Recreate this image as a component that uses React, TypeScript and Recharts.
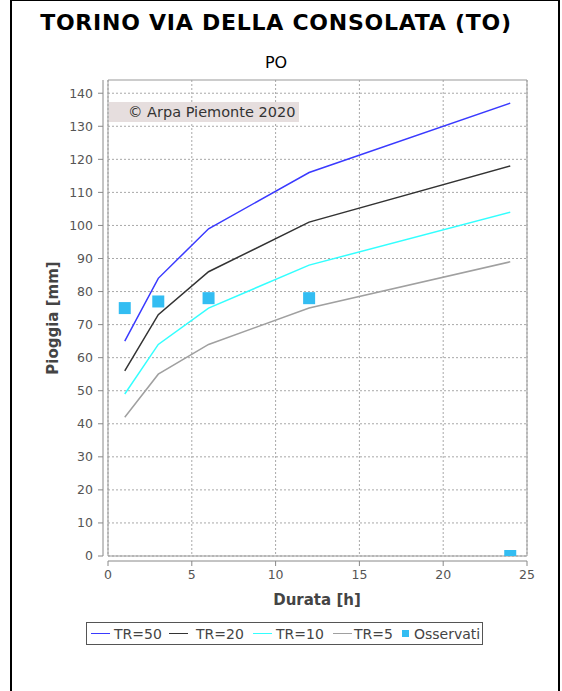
import { ComposedChart, Line, Scatter, XAxis, YAxis, CartesianGrid, ReferenceArea } from 'recharts';

const durations = [1, 3, 6, 12, 24];
const tr50 = [65, 84, 99, 116, 137];
const tr20 = [56, 73, 86, 101, 118];
const tr10 = [49, 64, 75, 88, 104];
const tr5 = [42, 55, 64, 75, 89];
const observed = [75, 77, 78, 78, 0];

const xTicks = [0, 5, 10, 15, 20, 25];
const yTicks = [0, 10, 20, 30, 40, 50, 60, 70, 80, 90, 100, 110, 120, 130, 140];

const series = [
  { key: 'tr50', name: 'TR=50', color: '#3a3aff' },
  { key: 'tr20', name: 'TR=20', color: '#333333' },
  { key: 'tr10', name: 'TR=10', color: '#33ffff' },
  { key: 'tr5', name: 'TR=5', color: '#a0a0a0' },
];
const OBS_COLOR = '#33bdf2';

// legend item offsets (swatch start, text start) inside the legend box
const legendPos = [
  [4, 27],
  [82, 109],
  [166, 189],
  [246, 267],
];

const rows = durations.map((d, i) => ({
  d,
  tr50: tr50[i],
  tr20: tr20[i],
  tr10: tr10[i],
  tr5: tr5[i],
  obs: observed[i],
}));

const FONT = '"DejaVu Sans", sans-serif';
const tickStyle = { fill: '#555', fontSize: 12.5, fontFamily: FONT };

function SquareDot(props: any) {
  const { cx, cy } = props;
  if (cx == null || cy == null) return null;
  return <rect x={cx - 6} y={cy - 6} width={12} height={12} fill={OBS_COLOR} />;
}

export default function App() {
  return (
    <div style={{ position: 'absolute', left: 0, top: 0, width: 562, height: 691, background: '#fff', fontFamily: FONT, overflow: 'hidden' }}>
      {/* outer frame */}
      <div style={{ position: 'absolute', left: 10, top: -1, width: 550, height: 700, border: '2px solid #000', boxSizing: 'border-box' }} />

      <div style={{ position: 'absolute', left: 0, width: 552, top: 9, textAlign: 'center', fontSize: 22, fontWeight: 'bold', letterSpacing: 0.75, color: '#000', lineHeight: '28px', whiteSpace: 'nowrap' }}>
        TORINO VIA DELLA CONSOLATA (TO)
      </div>
      <div style={{ position: 'absolute', left: 0, width: 552, top: 52, textAlign: 'center', fontSize: 16, color: '#000', lineHeight: '22px' }}>
        PO
      </div>

      <div style={{ position: 'absolute', left: 0, top: 0 }}>
        <ComposedChart width={562} height={691} data={rows} margin={{ top: 80, right: 35, left: 58, bottom: 105 }}>
          <CartesianGrid stroke="#a8a8a8" strokeDasharray="2 2" verticalValues={xTicks} horizontalValues={yTicks} />
          <ReferenceArea x1={0} x2={25} y1={0} y2={144} fill="none" stroke="#999" strokeWidth={1} />
          <XAxis
            type="number"
            dataKey="d"
            domain={[0, 25]}
            ticks={xTicks}
            height={30}
            tick={tickStyle}
            tickSize={5}
            tickMargin={9}
            axisLine={{ stroke: '#888', transform: 'translate(0,5)' }}
            tickLine={{ stroke: '#888', transform: 'translate(0,5)' }}
          />
          <YAxis
            type="number"
            domain={[0, 144]}
            ticks={yTicks}
            width={50}
            allowDataOverflow={true}
            tick={tickStyle}
            tickSize={5}
            tickMargin={10}
            axisLine={{ stroke: '#888', transform: 'translate(-5,0)' }}
            tickLine={{ stroke: '#888', transform: 'translate(-5,0)' }}
          />
          {series.map((s) => (
            <Line
              key={s.key}
              type="linear"
              dataKey={s.key}
              stroke={s.color}
              strokeWidth={1.5}
              dot={false}
              activeDot={false}
              isAnimationActive={false}
            />
          ))}
          <Scatter dataKey="obs" fill={OBS_COLOR} shape={SquareDot} isAnimationActive={false} />
        </ComposedChart>
      </div>

      {/* watermark */}
      <div style={{ position: 'absolute', left: 109, top: 102, width: 190, height: 20, background: '#e6dede', color: '#333', fontSize: 14.5, lineHeight: '20px', paddingLeft: 19, boxSizing: 'border-box', whiteSpace: 'nowrap' }}>
        © Arpa Piemonte 2020
      </div>

      {/* axis labels */}
      <div style={{ position: 'absolute', left: 53, top: 318, transform: 'translate(-50%, -50%) rotate(-90deg)', fontSize: 15, fontWeight: 'bold', color: '#444', whiteSpace: 'nowrap' }}>
        Pioggia [mm]
      </div>
      <div style={{ position: 'absolute', left: 317, top: 600, transform: 'translate(-50%, -50%)', fontSize: 15, fontWeight: 'bold', color: '#444', whiteSpace: 'nowrap' }}>
        Durata [h]
      </div>

      {/* legend */}
      <div style={{ position: 'absolute', left: 86, top: 622, width: 397, height: 23, border: '1px solid #555', boxSizing: 'border-box', fontSize: 14, color: '#444', whiteSpace: 'nowrap' }}>
        {series.map((s, i) => (
          <div key={s.key}>
            <div style={{ position: 'absolute', left: legendPos[i][0], top: 10, width: 19, height: 1, background: s.color }} />
            <div style={{ position: 'absolute', left: legendPos[i][1], top: 1, lineHeight: '20px' }}>{s.name}</div>
          </div>
        ))}
        <div style={{ position: 'absolute', left: 315, top: 7, width: 7, height: 7, background: OBS_COLOR }} />
        <div style={{ position: 'absolute', left: 327, top: 1, lineHeight: '20px' }}>Osservati</div>
      </div>
    </div>
  );
}
